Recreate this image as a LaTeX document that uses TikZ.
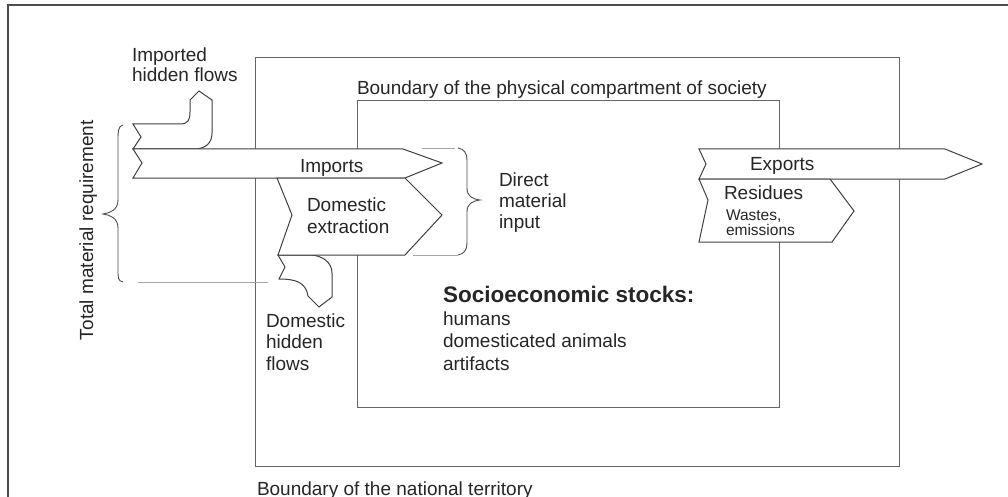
\documentclass[tikz,border=0pt]{standalone}
\usepackage{fontspec}
\setmainfont{Liberation Sans}
\begin{document}
\begin{tikzpicture}[x=1pt,y=-1pt,
  lbl/.style={inner sep=0pt, outer sep=0pt, anchor=base west, align=left, text=black!85,
              font=\fontsize{19}{21.5}\selectfont},
  flow/.style={draw=black!75, fill=white, line width=1pt, line join=miter},
  bnd/.style={draw=black!60, line width=1pt},
  frame/.style={draw=black!70, line width=1.6pt},
  guide/.style={draw=black!35, line width=0.7pt},
  brc/.style={draw=black!70, line width=0.9pt}]
\useasboundingbox (0,0) rectangle (1008,497);
% outer frame
\draw[frame] (8,497) -- (8,5) -- (1008,5);
% boundaries
\draw[bnd] (255,58) rectangle (899,466);
\draw[bnd] (357,101) rectangle (779,407);
% imported hidden flows
\draw[flow] (133,124) -- (180,124) .. controls (188,124) and (190,120) .. (190,112)
  -- (190,100) -- (199,91) -- (212,100) -- (212,133)
  .. controls (212,143) and (206,148) .. (196,149) -- (133,149) -- (141,137) -- cycle;
% imports
\draw[flow] (133,149) -- (403,149) -- (442,163) -- (405,178) -- (133,178) -- (142,163) -- cycle;
% domestic hidden flows
\draw[flow] (278,255) -- (285,267) -- (279,279)
  .. controls (295,279) and (306,282) .. (308,296) -- (319,307) -- (332,297) -- (332,273)
  .. controls (332,262) and (322,256) .. (312,255) -- cycle;
% domestic extraction
\draw[flow] (277,178) -- (405,178) -- (442,215) -- (405,255) -- (278,255) -- (292,215) -- cycle;
% exports and residues
\draw[flow] (699,149) -- (945,149) -- (982,164) -- (945,179) -- (699,179) -- (706,164) -- cycle;
\draw[flow] (699,179) -- (830,179) -- (854,211) -- (832,242) -- (699,242) -- (708,200) -- cycle;
% braces
\draw[brc] (123,125) .. controls (118,126) and (118,132) .. (118,140) -- (118,200)
  .. controls (118,210) and (110,213) .. (103,214)
  .. controls (110,215) and (118,218) .. (118,228) -- (118,270)
  .. controls (118,278) and (118,281) .. (123,282);
\draw[brc] (458,148) .. controls (464,149) and (467,153) .. (467,160) -- (467,188)
  .. controls (467,196) and (472,199) .. (480,200)
  .. controls (472,201) and (467,204) .. (467,212) -- (467,243)
  .. controls (467,250) and (464,254) .. (458,255);
% guide lines
\coordinate (g1a) at (138,282); \coordinate (g1b) at (268,282);
\coordinate (g2a) at (422,148); \coordinate (g2b) at (455,148);
\coordinate (g3a) at (413,255); \coordinate (g3b) at (458,255);
\draw[guide] (g1a) -- (g1b);
\draw[guide] (g2a) -- (g2b);
\draw[guide] (g3a) -- (g3b);
% labels (base anchor = baseline of the last line)
\node[lbl, font=\fontsize{19}{20}\selectfont] (ihf) at (132,82) {Imported\\hidden flows};
\node[lbl] (bphys) at (357,95) {Boundary of the physical compartment of society};
\node[lbl] (bnat) at (257,495) {Boundary of the national territory};
\node[lbl] (imp) at (300,172) {Imports};
\node[lbl, font=\fontsize{19}{21}\selectfont] (dext) at (307,233) {Domestic\\extraction};
\node[lbl, font=\fontsize{19}{21}\selectfont] (dmi) at (499,228) {Direct\\material\\input};
\node[lbl] (exp) at (750,171) {Exports};
\node[lbl] (res) at (724,199) {Residues};
\node[lbl, font=\fontsize{15.5}{15}\selectfont] (wst) at (726,235) {Wastes,\\emissions};
\node[lbl, font=\fontsize{22.5}{24}\bfseries] (sst) at (443,302) {Socioeconomic stocks:};
\node[lbl, font=\fontsize{19}{22.5}\selectfont] (sitems) at (443,370) {humans\\domesticated animals\\artifacts};
\node[lbl] (dhf) at (266,370) {Domestic\\hidden\\flows};
\node[lbl, rotate=90] (tmr) at (93,340) {Total material requirement};
\end{tikzpicture}
\end{document}
